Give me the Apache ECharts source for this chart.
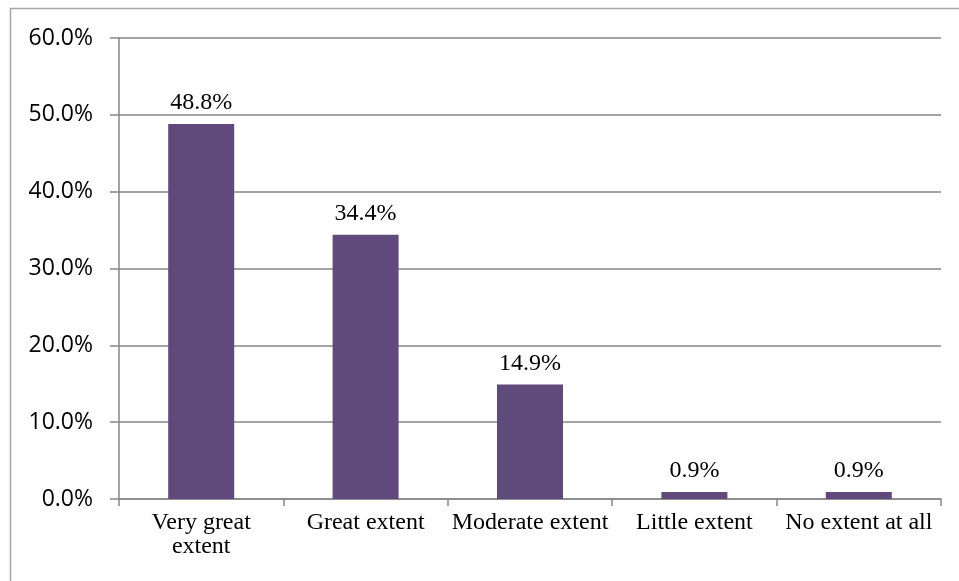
<!DOCTYPE html>
<html>
<head>
<meta charset="utf-8">
<script src="https://cdn.jsdelivr.net/npm/echarts@6/dist/echarts.min.js"></script>
<style>
html,body{margin:0;padding:0;background:#fff;}
#chart{width:959px;height:581px;}
</style>
</head>
<body>
<div id="chart"></div>
<script>
const categories = ['Very great\nextent', 'Great extent', 'Moderate extent', 'Little extent', 'No extent at all'];
const values = [48.8, 34.4, 14.9, 0.9, 0.9];

const chart = echarts.init(document.getElementById('chart'));
chart.setOption({
  animation: false,
  backgroundColor: '#fff',
  graphic: [{
    type: 'rect',
    shape: {x: 10.5, y: 8.5, width: 1000, height: 1000},
    style: {fill: 'none', stroke: '#a6a6a6', lineWidth: 1.5},
    silent: true
  }],
  grid: {left: 119, right: 18, top: 38, bottom: 82, containLabel: false},
  xAxis: {
    type: 'category',
    data: categories,
    axisLine: {lineStyle: {color: '#868686', width: 1.5}},
    axisTick: {show: true, alignWithLabel: false, length: 7, lineStyle: {color: '#868686', width: 1.5}},
    axisLabel: {
      color: '#000', fontFamily: 'Liberation Serif', fontSize: 24, lineHeight: 24, margin: 12, interval: 0
    }
  },
  yAxis: {
    type: 'value',
    min: 0, max: 60, interval: 10,
    axisLine: {show: true, lineStyle: {color: '#868686', width: 1.5}},
    axisTick: {show: true, length: 9, lineStyle: {color: '#868686', width: 1.5}},
    splitLine: {lineStyle: {color: '#868686', width: 1.5}},
    axisLabel: {
      color: '#000', fontFamily: 'Open Sans', fontSize: 23, margin: 26,
      formatter: v => v.toFixed(1) + '%'
    }
  },
  series: [{
    type: 'bar',
    data: values,
    barWidth: 66,
    itemStyle: {color: '#604A7B'},
    label: {
      show: true, position: 'top', distance: 9,
      color: '#000', fontFamily: 'Liberation Serif', fontSize: 24,
      formatter: p => p.value.toFixed(1) + '%'
    }
  }]
});
</script>
</body>
</html>
